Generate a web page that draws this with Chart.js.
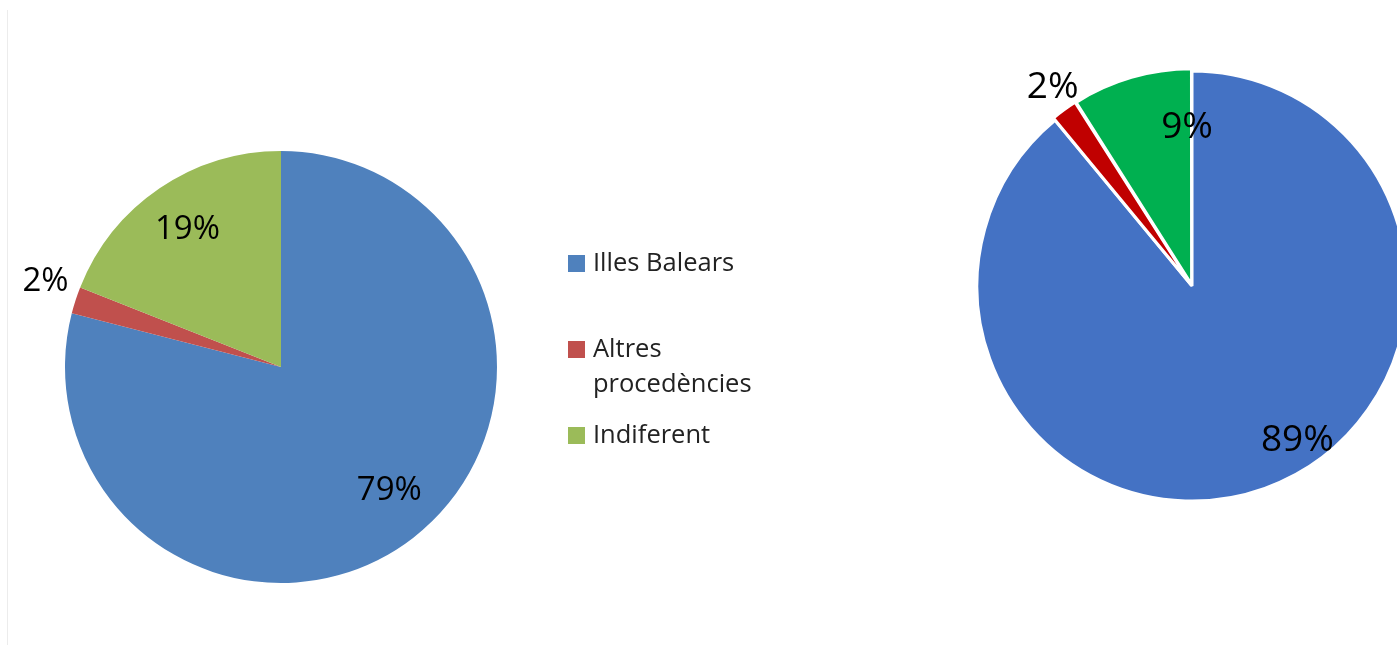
<!DOCTYPE html>
<html lang="ca">
<head>
<meta charset="utf-8">
<title>Procedència</title>
<script src="https://cdn.jsdelivr.net/npm/chart.js@4.4.1/dist/chart.umd.min.js"></script>
<style>
  html, body { margin: 0; padding: 0; background: #fff; overflow: hidden; }
  body { width: 1397px; height: 645px; position: relative; font-family: 'Open Sans', sans-serif; }
  .marc { position: absolute; left: 7px; top: 10px; width: 0; height: 640px; border-left: 1px solid #ececec; }
  #graficEsq { position: absolute; left: 0; top: 0; }
  #graficDre { position: absolute; left: 700px; top: 0; }
  .llegenda { position: absolute; left: 568px; top: 244px; color: #222; font-size: 25.5px; line-height: 35px; }
  .llegenda .item { position: absolute; left: 0; white-space: nowrap; }
  .llegenda .quadre { position: absolute; left: 0; width: 17px; height: 17px; }
  .llegenda .text { position: absolute; left: 25px; }
</style>
</head>
<body>
<div class="marc"></div>
<canvas id="graficEsq" width="562" height="645"></canvas>
<canvas id="graficDre" width="697" height="645"></canvas>
<div class="llegenda" id="llegenda"></div>

<script>
// Dades llegides del gràfic
const categories = ['Illes Balears', 'Altres procedències', 'Indiferent'];
const valorsEsq = [79, 2, 19];
const valorsDre = [89, 2, 9];

const coloresEsq = ['#4F81BD', '#C0504D', '#9BBB59'];
const coloresDre = ['#4472C4', '#C00000', '#00B050'];

// Col·locació de les etiquetes: factor del radi i gir (graus) respecte de l'angle mitjà
const etiqEsq = { factor: [0.76, 1.16, 0.77], gir: [-3.5, 2, 0] };
const etiqDre = { factor: [0.87, 1.13, 0.74], gir: [-14.5, 1, 14.4] };

/**
 * Plugin que escriu el percentatge de cada porció
 */
const pluginEtiquetes = {
  id: 'etiquetes',
  afterDatasetsDraw(chart, args, opts) {
    const ctx = chart.ctx;
    const meta = chart.getDatasetMeta(0);
    const valors = chart.data.datasets[0].data;
    ctx.save();
    ctx.fillStyle = '#000';
    ctx.font = opts.midaFont + 'px "Open Sans", sans-serif';
    ctx.textAlign = 'center';
    ctx.textBaseline = 'middle';
    meta.data.forEach((arc, i) => {
      const p = arc.getProps(['x', 'y', 'startAngle', 'endAngle', 'outerRadius'], true);
      const mig = (p.startAngle + p.endAngle) / 2 + opts.gir[i] * Math.PI / 180;
      const r = p.outerRadius * opts.factor[i];
      ctx.fillText(valors[i] + '%', p.x + Math.cos(mig) * r, p.y + Math.sin(mig) * r);
    });
    ctx.restore();
  }
};

function crearPastis(canvasId, valors, colors, opcions) {
  const ctx = document.getElementById(canvasId).getContext('2d');
  return new Chart(ctx, {
    type: 'pie',
    data: {
      labels: categories,
      datasets: [{
        data: valors,
        backgroundColor: colors,
        borderColor: '#ffffff',
        borderWidth: opcions.vora,
        offset: opcions.separacio,
        radius: opcions.radi,
        clip: false
      }]
    },
    options: {
      responsive: false,
      animation: false,
      layout: { padding: opcions.padding },
      plugins: {
        legend: { display: false },
        tooltip: { enabled: false },
        etiquetes: { midaFont: opcions.midaFont, factor: opcions.etiq.factor, gir: opcions.etiq.gir }
      }
    },
    plugins: [pluginEtiquetes]
  });
}

// Pastís esquerre (amb llegenda)
crearPastis('graficEsq', valorsEsq, coloresEsq, {
  vora: 0,
  separacio: 0,
  radi: 216,
  padding: { top: 89, bottom: 0, left: 0, right: 0 },
  midaFont: 33,
  etiq: etiqEsq
});

// Pastís dret (porcions separades)
crearPastis('graficDre', valorsDre, coloresDre, {
  vora: 3,
  separacio: [0, 6, 6],
  radi: 215,
  padding: { top: 0, bottom: 73, left: 287, right: 0 },
  midaFont: 37,
  etiq: etiqDre
});

// Llegenda HTML
(function llegenda() {
  const cont = document.getElementById('llegenda');
  const files = [['Illes Balears'], ['Altres', 'procedències'], ['Indiferent']];
  const tops = [0, 86, 172];
  files.forEach((linies, i) => {
    const item = document.createElement('div');
    item.className = 'item';
    item.style.top = tops[i] + 'px';
    item.innerHTML = '<div class="quadre" style="top:11px;background:' + coloresEsq[i] + '"></div>' +
      '<div class="text">' + linies.join('<br>') + '</div>';
    cont.appendChild(item);
  });
})();
</script>
</body>
</html>
